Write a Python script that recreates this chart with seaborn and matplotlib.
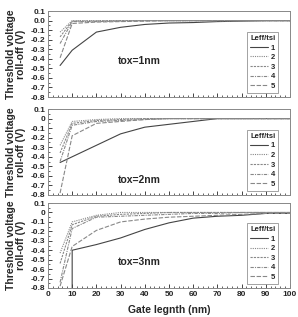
import matplotlib
matplotlib.use('Agg')
import matplotlib.pyplot as plt
import matplotlib as mpl
from matplotlib.ticker import MultipleLocator
import pandas as pd
import seaborn as sns

mpl.rcParams['axes.unicode_minus'] = False

# 데이터
gate_len = [5, 10, 20, 30, 40, 50, 60, 70, 80, 90, 100]
curves = ['1', '2', '3', '4', '5']
panels = ['tox=1nm', 'tox=2nm', 'tox=3nm']

tox1 = {
    '1': [-0.47, -0.31, -0.12, -0.07, -0.04, -0.025, -0.02, -0.01, -0.005, 0.0, 0.0],
    '2': [-0.12, 0.0, 0.0, 0.0, 0.0, 0.0, 0.0, 0.0, 0.0, 0.0, 0.0],
    '3': [-0.17, -0.005, -0.003, 0.0, 0.0, 0.0, 0.0, 0.0, 0.0, 0.0, 0.0],
    '4': [-0.24, -0.01, -0.01, -0.005, 0.0, 0.0, 0.0, 0.0, 0.0, 0.0, 0.0],
    '5': [-0.39, -0.03, -0.015, -0.01, -0.005, 0.0, 0.0, 0.0, 0.0, 0.0, 0.0],
}
tox2 = {
    '1': [-0.46, -0.40, -0.28, -0.16, -0.09, -0.06, -0.03, 0.0, 0.0, 0.0, 0.0],
    '2': [-0.28, -0.03, -0.01, 0.0, 0.0, 0.0, 0.0, 0.0, 0.0, 0.0, 0.0],
    '3': [-0.36, -0.05, -0.02, -0.01, 0.0, 0.0, 0.0, 0.0, 0.0, 0.0, 0.0],
    '4': [-0.45, -0.07, -0.03, -0.02, -0.01, 0.0, 0.0, 0.0, 0.0, 0.0, 0.0],
    '5': [-0.78, -0.18, -0.05, -0.03, -0.01, 0.0, 0.0, 0.0, 0.0, 0.0, 0.0],
}
# tox=3nm 곡선1은 x=10에서 수직으로 시작
tox3_x1 = [10, 10, 20, 30, 40, 50, 60, 70, 80, 90, 100]
tox3 = {
    '1': [-0.80, -0.40, -0.34, -0.27, -0.18, -0.11, -0.06, -0.04, -0.03, -0.01, -0.01],
    '2': [-0.43, -0.10, -0.03, 0.0, 0.0, 0.0, 0.0, 0.0, 0.0, 0.0, 0.0],
    '3': [-0.54, -0.13, -0.04, -0.02, -0.01, 0.0, 0.0, 0.0, 0.0, 0.0, 0.0],
    '4': [-0.74, -0.17, -0.05, -0.04, -0.03, -0.02, -0.01, -0.01, 0.0, 0.0, 0.0],
    '5': [-0.78, -0.36, -0.19, -0.10, -0.07, -0.05, -0.04, -0.03, -0.02, -0.01, -0.01],
}

yticks = [0.1, 0.0, -0.1, -0.2, -0.3, -0.4, -0.5, -0.6, -0.7, -0.8]
ylabels_top = ['0.1', '0.0', '-0.1', '-0.2', '-0.3', '-0.4', '-0.5', '-0.6', '-0.7', '-0.8']
ylabels_rest = ['0.1', '0', '-0.1', '-0.2', '-0.3', '-0.4', '-0.5', '-0.6', '-0.7', '-0.8']
xticks = [0, 10, 20, 30, 40, 50, 60, 70, 80, 90, 100]

# long format 데이터프레임
rows = []
for pname, d in zip(panels, [tox1, tox2, tox3]):
    for c in curves:
        xs = tox3_x1 if (pname == 'tox=3nm' and c == '1') else gate_len
        for i, (x, y) in enumerate(zip(xs, d[c])):
            rows.append({'panel': pname, 'curve': c, 'order': i, 'x': x, 'y': y})
df = pd.DataFrame(rows)

sns.set_style('white')
plt.rcParams['font.family'] = ['Liberation Sans', 'DejaVu Sans']
plt.rcParams['axes.unicode_minus'] = False

palette = {'1': '#444444', '2': '#888888', '3': '#888888', '4': '#888888', '5': '#888888'}
dashes = {'1': '', '2': (1, 1), '3': (2, 1), '4': (3, 1, 1, 1), '5': (4, 1.5)}

fig = plt.figure(figsize=(2.98, 3.17), dpi=100)
positions = [[0.161, 0.694, 0.812, 0.271],
             [0.161, 0.385, 0.812, 0.271],
             [0.161, 0.0915, 0.812, 0.268]]
text_y = [-0.42, -0.64, -0.52]

for k, pname in enumerate(panels):
    ax = fig.add_axes(positions[k])
    sub = df[df['panel'] == pname].sort_values(['curve', 'order'])
    sns.lineplot(data=sub, x='x', y='y', hue='curve', style='curve',
                 palette=palette, dashes=dashes, estimator=None, sort=False,
                 units='curve', linewidth=0.8, ax=ax)
    ax.set_xlim(0, 100)
    ax.set_ylim(-0.8, 0.1)
    ax.set_yticks(yticks)
    ax.set_yticklabels(ylabels_top if k == 0 else ylabels_rest)
    ax.set_xticks(xticks)
    if k == 2:
        ax.set_xticklabels([str(v) for v in xticks])
        ax.set_xlabel('Gate legnth (nm)', fontsize=7.5, fontweight='bold', labelpad=5)
    else:
        ax.set_xticklabels([])
        ax.set_xlabel('')
    ax.xaxis.set_minor_locator(MultipleLocator(2))
    ax.yaxis.set_minor_locator(MultipleLocator(0.05))
    ax.tick_params(which='major', direction='in', length=3, width=0.6,
                   labelsize=6, pad=2, bottom=True, left=True)
    ax.tick_params(which='minor', direction='in', length=1.5, width=0.5,
                   bottom=True, left=True)
    for lab in ax.get_xticklabels() + ax.get_yticklabels():
        lab.set_fontweight('bold')
    ax.set_ylabel('Threshold voltage\nroll-off (V)', fontsize=7.5, fontweight='bold',
                  labelpad=3, linespacing=1.0)
    for sp in ax.spines.values():
        sp.set_color('#888888')
        sp.set_linewidth(0.7)
    ax.text(29, text_y[k], pname, fontsize=7.5, fontweight='bold', va='center', ha='left')

    handles, labels = ax.get_legend_handles_labels()
    leg = ax.legend(handles, labels, title='Leff/tsi', loc='lower right',
                    bbox_to_anchor=(0.952, 0.045), fontsize=5.5, title_fontsize=5.5,
                    frameon=True, fancybox=False, edgecolor='#777777',
                    handlelength=2.4, handletextpad=0.4, labelspacing=0.3,
                    borderpad=0.4, borderaxespad=0.0, markerfirst=True)
    leg.get_frame().set_linewidth(0.6)
    leg.get_title().set_fontweight('bold')
    for t in leg.get_texts():
        t.set_fontweight('bold')
    leg._legend_box.align = 'right'

fig.savefig('out.png', dpi=100)
